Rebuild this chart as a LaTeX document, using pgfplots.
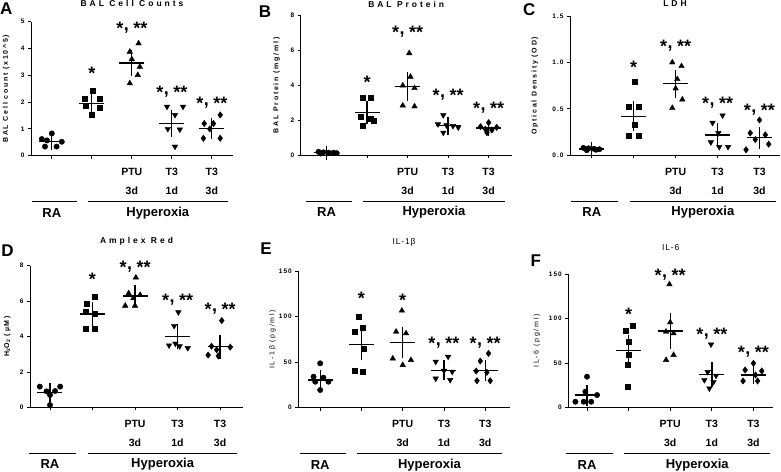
\documentclass[border=0pt]{standalone}
\usepackage{fontspec}
\setmainfont{Liberation Sans}
\newfontfamily\tkfont[LetterSpace=15]{Liberation Sans}
\newfontfamily\ttlfont[LetterSpace=35]{Liberation Sans}
\newfontfamily\ylfont[LetterSpace=25]{Liberation Sans}
\newfontfamily\ilfont[LetterSpace=10]{Liberation Sans}
\usepackage{pgfplots}
\pgfplotsset{compat=1.18}

\tikzset{
 catlab/.style={font=\fontsize{10.5}{12}\selectfont\bfseries, inner sep=0pt},
 grplab/.style={font=\fontsize{13}{14}\selectfont\bfseries, inner sep=0pt},
 starlab/.style={font=\fontsize{18}{20}\selectfont\bfseries, inner sep=0pt, anchor=base},
 panlab/.style={font=\fontsize{17}{18}\selectfont\bfseries, inner sep=0pt},
}
\newcommand{\tw}{*\hspace{0.5pt}\raisebox{4pt}{,}\hspace{4.5pt}**}
\pgfplotsset{
 panel/.style={
  scale only axis, axis lines*=left, clip=false, ymin=0,
  xtick={0,1,2,3,4}, xticklabels={},
  tick align=outside, major tick length=3pt,
  tick style={black, line width=0.8pt},
  axis line style={black, line width=0.9pt},
  tick label style={font=\tkfont\bfseries\fontsize{6.5}{7}\selectfont},
  /pgf/number format/assume math mode=true,
  title style={at={(0.5,1)}, anchor=center, inner sep=0pt},
  ylabel style={anchor=center, inner sep=0pt},
 },
 c0/.style={only marks, mark=*, mark size=2.7pt, black},
 c1/.style={only marks, mark=square*, mark size=2.5pt, black},
 c2/.style={only marks, mark=triangle*, mark size=3.2pt, black},
 c3/.style={only marks, mark=triangle*, mark size=3.2pt, black, mark options={rotate=180}},
 c4/.style={only marks, mark=diamond*, mark size=3.2pt, black},
}
\newcommand{\ms}[3]{%
 \addplot[black, only marks, mark=-, mark size=12.5pt, mark options={line width=1.3pt}] coordinates {(#1,#2)};
 \addplot[black, mark=none, error bars/.cd, y dir=both, y explicit, error bar style={line width=1.3pt, black}, error mark=-, error mark options={mark size=6.5pt, line width=1.3pt, black}] coordinates {(#1,#2) +- (0,#3)};}
\newcommand{\st}[3]{\node[starlab] at ([yshift=-10pt]axis cs:#1,#2) {#3};}
\newcommand{\cats}{%
 \node[catlab] at ([yshift=-16.5pt]axis cs:2,0) {PTU};
 \node[catlab] at ([yshift=-35.5pt]axis cs:2,0) {3d};
 \node[catlab] at ([yshift=-16.5pt]axis cs:3,0) {T3};
 \node[catlab] at ([yshift=-35.5pt]axis cs:3,0) {1d};
 \node[catlab] at ([yshift=-16.5pt]axis cs:4,0) {T3};
 \node[catlab] at ([yshift=-35.5pt]axis cs:4,0) {3d};
 \draw[line width=0.9pt] ([yshift=-46pt]axis cs:-0.5,0) -- ([yshift=-46pt]axis cs:0.62,0);
 \draw[line width=0.9pt] ([yshift=-46pt]axis cs:0.9,0) -- ([yshift=-46pt]axis cs:4.4,0);
 \node[grplab] at ([yshift=-57pt]axis cs:0,0) {RA};
 \node[grplab] at ([yshift=-57pt]axis cs:2.65,0) {Hyperoxia};
}

\begin{document}
\begin{tikzpicture}
\path[use as bounding box] (0pt,0pt) rectangle (781pt,471pt);

% ---------------- A
\begin{axis}[panel, at={(31pt,315.3pt)}, anchor=south west, width=202pt, height=134pt,
 xmin=-0.52, xmax=4.53, ymax=5, ytick={0,1,2,3,4,5},
 title={\ttlfont\bfseries\fontsize{8.5}{9}\selectfont BAL Cell Counts}, title style={yshift=12.4pt},
 ylabel={\ylfont\bfseries\fontsize{7}{7}\selectfont BAL Cell count (x10\textasciicircum 5)},
 ylabel style={at={(axis description cs:-0.124,0.5)}}]
\addplot[c0] coordinates {(0,0.83) (-0.25,0.62) (-0.12,0.57) (0.25,0.52) (-0.17,0.34) (0.12,0.34)};
\addplot[c1] coordinates {(1.02,2.43) (0.82,2.12) (1.2,2.12) (0.85,1.85) (1.2,1.8) (1.0,1.52)};
\addplot[c2] coordinates {(2.17,4.19) (1.95,3.88) (2.0,3.6) (2.2,3.32) (2.15,3.01) (1.95,2.7)};
\addplot[c3] coordinates {(2.88,1.83) (3.28,1.83) (3.08,1.52) (2.9,1.0) (3.2,0.98) (3.08,0.34)};
\addplot[c4] coordinates {(4.21,1.52) (3.81,1.2) (4.04,1.2) (3.95,1.0) (3.79,0.65) (4.21,0.65)};
\ms{0}{0.52}{0.07}\ms{1}{1.95}{0.14}\ms{2}{3.46}{0.23}\ms{3}{1.2}{0.25}\ms{4}{1.02}{0.14}
\st{1}{3.2}{*}\st{2}{4.88}{\tw}\st{3}{2.51}{\tw}\st{4}{2.08}{\tw}
\cats
\end{axis}

% ---------------- B
\begin{axis}[panel, at={(300.7pt,315.7pt)}, anchor=south west, width=211pt, height=139.6pt,
 xmin=-0.64, xmax=4.57, ymax=8, ytick={0,2,4,6,8},
 title={\ttlfont\bfseries\fontsize{8.5}{9}\selectfont BAL Protein}, title style={yshift=5.7pt},
 ylabel={\ylfont\bfseries\fontsize{7}{7}\selectfont BAL Protein (mg/ml)},
 ylabel style={at={(axis description cs:-0.114,0.5)}}]
\addplot[c0] coordinates {(-0.2,0.2) (-0.08,0.17) (0.05,0.15) (0.17,0.15) (0.25,0.12) (-0.15,0.1)};
\addplot[c1] coordinates {(0.9,3.32) (1.1,3.3) (0.85,2.2) (1.1,2.1) (1.15,2.0) (0.9,1.72)};
\addplot[c2] coordinates {(2.04,5.85) (2.07,4.5) (1.88,4.0) (2.17,3.85) (1.88,2.85) (2.17,2.8)};
\addplot[c3] coordinates {(2.88,2.3) (2.75,1.78) (2.96,1.72) (3.12,1.68) (3.25,1.6) (2.88,1.3)};
\addplot[c4] coordinates {(4.0,1.87) (3.8,1.64) (4.2,1.6) (3.92,1.5) (4.08,1.45) (3.96,1.3)};
\ms{0}{0.15}{0.02}\ms{1}{2.44}{0.28}\ms{2}{3.93}{0.47}\ms{3}{1.7}{0.14}\ms{4}{1.56}{0.08}
\st{1}{4.4}{*}\st{2}{7.27}{\tw}\st{3}{3.68}{\tw}\st{4}{2.92}{\tw}
\cats
\end{axis}

% ---------------- C
\begin{axis}[panel, at={(570pt,315.7pt)}, anchor=south west, width=210pt, height=139.3pt,
 xmin=-0.52, xmax=4.49, ymax=1.5, ytick={0,0.5,1,1.5},
 yticklabel style={/pgf/number format/.cd, fixed, fixed zerofill, precision=1},
 title={\ttlfont\bfseries\fontsize{8.5}{9}\selectfont LDH}, title style={yshift=6pt},
 ylabel={\ylfont\bfseries\fontsize{7}{7}\selectfont Optical Density (OD)},
 ylabel style={at={(axis description cs:-0.167,0.5)}}]
\addplot[c0] coordinates {(-0.2,0.08) (-0.08,0.075) (0.05,0.07) (0.18,0.065) (0.1,0.06) (-0.12,0.055)};
\addplot[c1] coordinates {(1.02,0.79) (0.88,0.52) (1.12,0.52) (1.02,0.33) (0.88,0.21) (1.12,0.21)};
\addplot[c2] coordinates {(1.92,1.0) (2.14,0.96) (2.04,0.82) (2.0,0.72) (2.16,0.6) (1.92,0.51)};
\addplot[c3] coordinates {(3.12,0.43) (2.88,0.35) (3.02,0.24) (2.84,0.14) (3.04,0.09) (3.25,0.09)};
\addplot[c4] coordinates {(4.0,0.38) (3.78,0.24) (4.14,0.22) (3.9,0.17) (4.22,0.12) (3.68,0.06)};
\ms{0}{0.068}{0.005}\ms{1}{0.42}{0.09}\ms{2}{0.77}{0.08}\ms{3}{0.22}{0.06}\ms{4}{0.19}{0.05}
\st{1}{0.99}{*}\st{2}{1.21}{\tw}\st{3}{0.6}{\tw}\st{4}{0.53}{\tw}
\cats
\end{axis}

% ---------------- D
\begin{axis}[panel, at={(30pt,63.7pt)}, anchor=south west, width=213pt, height=141.6pt,
 xmin=-0.47, xmax=4.54, ymax=8, ytick={0,2,4,6,8},
 title={\ttlfont\bfseries\fontsize{8.5}{9}\selectfont Amplex Red}, title style={yshift=18pt},
 ylabel={\ylfont\bfseries\fontsize{7}{7}\selectfont H\textsubscript{2}O\textsubscript{2} (µM)},
 ylabel style={at={(axis description cs:-0.107,0.5)}}]
\addplot[c0] coordinates {(-0.24,1.17) (0.24,1.17) (-0.08,0.9) (0.12,0.92) (0,0.7) (0,0.13)};
\addplot[c1] coordinates {(1.06,6.25) (0.87,5.88) (1.06,5.27) (0.84,5.4) (0.84,4.46) (1.06,4.46)};
\addplot[c2] coordinates {(2.02,7.33) (1.85,6.44) (2.12,6.35) (1.96,6.16) (1.77,5.74) (2.0,5.74)};
\addplot[c3] coordinates {(3.02,5.37) (2.92,4.6) (2.95,3.6) (2.8,3.5) (3.05,3.45) (3.24,3.35)};
\addplot[c4] coordinates {(4.04,4.9) (3.8,3.45) (4.24,3.4) (3.92,3.25) (3.72,2.95) (3.96,2.9)};
\ms{0}{0.83}{0.16}\ms{1}{5.27}{0.3}\ms{2}{6.29}{0.23}\ms{3}{3.99}{0.33}\ms{4}{3.42}{0.3}
\st{1}{7.44}{*}\st{2}{8.14}{\tw}\st{3}{6.25}{\tw}\st{4}{5.78}{\tw}
\cats
\end{axis}

% ---------------- E
\begin{axis}[panel, at={(298.3pt,63.3pt)}, anchor=south west, width=211.7pt, height=136.7pt,
 xmin=-0.53, xmax=4.6, ymax=150, ytick={0,50,100,150},
 title={\ilfont\fontsize{8.5}{9}\selectfont IL-1β}, title style={yshift=22.7pt},
 ylabel={\ylfont\fontsize{7}{7}\selectfont IL-1β (pg/ml)},
 ylabel style={at={(axis description cs:-0.121,0.5)}}]
\addplot[c0] coordinates {(0,48.7) (-0.16,34) (0.08,33) (-0.12,28.5) (0.2,28.5) (0,19.4)};
\addplot[c1] coordinates {(0.94,100) (1.04,88) (0.84,83) (1.06,65) (0.84,41) (1.04,40)};
\addplot[c2] coordinates {(1.98,106.5) (1.84,83.4) (2.08,81.6) (1.76,54) (2.2,52.3) (2.0,46.8)};
\addplot[c3] coordinates {(3.1,56) (2.8,50.5) (3.0,40.5) (3.2,39.5) (2.8,32) (3.15,30.5)};
\addplot[c4] coordinates {(4.08,59.6) (3.88,51.2) (3.78,40.2) (4.04,38.8) (3.8,29.6) (4.12,29.6)};
\ms{0}{30.4}{4}\ms{1}{69.5}{10}\ms{2}{71.7}{9.5}\ms{3}{41}{4}\ms{4}{41}{4.7}
\st{1}{124}{*}\st{2}{121.5}{*}\st{3}{75}{\tw}\st{4}{75}{\tw}
\cats
\end{axis}

% ---------------- F
\begin{axis}[panel, at={(568.3pt,63.3pt)}, anchor=south west, width=204.7pt, height=133.7pt,
 xmin=-0.45, xmax=4.47, ymax=150, ytick={0,50,100,150},
 title={\ilfont\fontsize{8.5}{9}\selectfont IL-6}, title style={yshift=20pt},
 ylabel={\ylfont\fontsize{7}{7}\selectfont IL-6 (pg/ml)},
 ylabel style={at={(axis description cs:-0.154,0.5)}}]
\addplot[c0] coordinates {(0,34.8) (-0.04,18) (0.24,14.2) (-0.28,6.7) (-0.08,6.7) (0.1,6.7)};
\addplot[c1] coordinates {(1.1,92) (0.92,86) (1.0,74) (1.0,59) (0.98,48) (0.98,23.6)};
\addplot[c2] coordinates {(1.98,138.4) (2.0,95.8) (2.08,83.4) (1.9,85.3) (1.9,53.5) (2.08,59.1)};
\addplot[c3] coordinates {(2.98,71) (2.9,40) (3.1,36) (2.82,31) (3.04,29) (2.94,21.7)};
\addplot[c4] coordinates {(4.0,49.8) (3.8,42.3) (4.2,41.2) (4.05,36.7) (3.75,30) (4.1,30)};
\ms{0}{14.2}{4.5}\ms{1}{64}{10}\ms{2}{86}{12.5}\ms{3}{37.4}{7}\ms{4}{36.7}{3.2}
\st{1}{109.6}{*}\st{2}{152.6}{\tw}\st{3}{87}{\tw}\st{4}{66.6}{\tw}
\cats
\end{axis}

\node[panlab] at (6.3pt,462.2pt) {A};
\node[panlab] at (265pt,459pt) {B};
\node[panlab] at (529.2pt,461.8pt) {C};
\node[panlab] at (7.5pt,220.2pt) {D};
\node[panlab] at (266pt,222pt) {E};
\node[panlab] at (535.8pt,210.5pt) {F};
\end{tikzpicture}
\end{document}
